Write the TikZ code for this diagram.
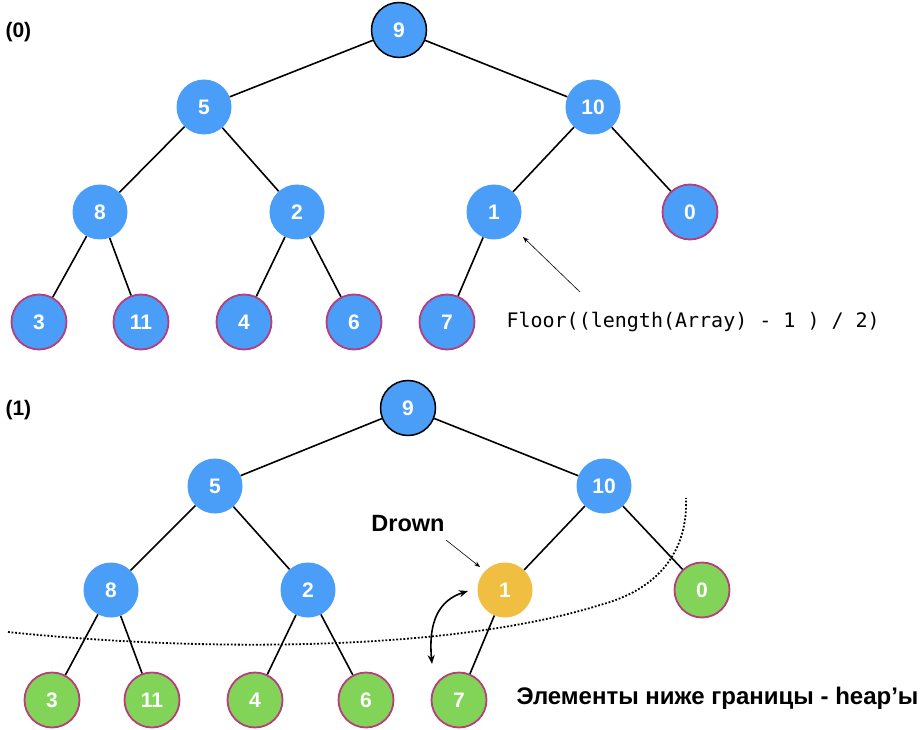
\documentclass[tikz,border=0pt]{standalone}
\usepackage{fontspec}
\setmainfont{Liberation Sans}
\newfontfamily\monofont{DejaVu Sans Mono}
\usetikzlibrary{arrows.meta}
\definecolor{nblue}{RGB}{74,158,247}
\definecolor{ngreen}{RGB}{130,212,88}
\definecolor{nyellow}{RGB}{240,190,65}
\definecolor{npurple}{RGB}{183,61,125}
\tikzset{
  vtx/.style={circle, minimum size=55pt, inner sep=0pt, text=white,
    font=\fontsize{21}{24}\selectfont\bfseries},
  bluev/.style={vtx, fill=nblue},
  rootv/.style={vtx, fill=nblue, draw=black, line width=1.5pt},
  leafb/.style={vtx, fill=nblue, draw=npurple, line width=1.8pt},
  leafg/.style={vtx, fill=ngreen, draw=npurple, line width=1.8pt},
  yelv/.style={vtx, fill=nyellow},
  edge/.style={line width=1.6pt, black},
  thinarrow/.style={line width=0.6pt, -{Stealth[length=6pt,width=4.5pt]}},
  lab/.style={font=\fontsize{21}{24}\selectfont\bfseries, anchor=west},
  boldtext/.style={font=\fontsize{23.5}{27}\selectfont\bfseries},
}
\begin{document}
\begin{tikzpicture}[x=1pt,y=-1pt]
\useasboundingbox (0,0) rectangle (924,730);
% ---- tree (0)
\node[lab] (l0) at (2,32) {(0)};
\node[rootv] (a9) at (399,30) {9};
\node[bluev] (a5) at (204,107) {5};
\node[bluev] (a10) at (593,107) {10};
\node[bluev] (a8) at (100,212) {8};
\node[bluev] (a2) at (297,212) {2};
\node[bluev] (a1) at (494,212) {1};
\node[leafb] (a0) at (690,212) {0};
\node[leafb] (a3) at (39,322) {3};
\node[leafb] (a11) at (141,322) {11};
\node[leafb] (a4) at (244,322) {4};
\node[leafb] (a6) at (354,322) {6};
\node[leafb] (a7) at (447,322) {7};
\draw[edge] (a9) -- (a5);
\draw[edge] (a9) -- (a10);
\draw[edge] (a5) -- (a8);
\draw[edge] (a5) -- (a2);
\draw[edge] (a10) -- (a1);
\draw[edge] (a10) -- (a0);
\draw[edge] (a8) -- (a3);
\draw[edge] (a8) -- (a11);
\draw[edge] (a2) -- (a4);
\draw[edge] (a2) -- (a6);
\draw[edge] (a1) -- (a7);
\node[anchor=west, font=\monofont\fontsize{20}{23}\selectfont] (floor) at (503,322) {Floor((length(Array) - 1 ) / 2)};
\coordinate (ftail) at (580,292);
\coordinate (fhead) at (523,237);
\draw[thinarrow] (ftail) -- (fhead);
% ---- tree (1)
\node[lab] (l1) at (2,410) {(1)};
\node[rootv] (b9) at (408,408) {9};
\node[bluev] (b5) at (215,486) {5};
\node[bluev] (b10) at (604,486) {10};
\node[bluev] (b8) at (111,590) {8};
\node[bluev] (b2) at (308,590) {2};
\node[yelv] (b1) at (505,590) {1};
\node[leafg] (b0) at (702,590) {0};
\node[leafg] (b3) at (52,700) {3};
\node[leafg] (b11) at (152,700) {11};
\node[leafg] (b4) at (255,700) {4};
\node[leafg] (b6) at (366,700) {6};
\node[leafg] (b7) at (459,700) {7};
\draw[edge] (b9) -- (b5);
\draw[edge] (b9) -- (b10);
\draw[edge] (b5) -- (b8);
\draw[edge] (b5) -- (b2);
\draw[edge] (b10) -- (b1);
\draw[edge] (b10) -- (b0);
\draw[edge] (b8) -- (b3);
\draw[edge] (b8) -- (b11);
\draw[edge] (b2) -- (b4);
\draw[edge] (b2) -- (b6);
\draw[edge] (b1) -- (b7);
\node[boldtext] (drown) at (408,524) {Drown};
\coordinate (dtail) at (446,540);
\coordinate (dhead) at (480,567);
\draw[thinarrow] (dtail) -- (dhead);
\coordinate (sw1) at (432,664);
\coordinate (sw2) at (468,591);
\draw[line width=1.6pt, {Stealth[length=9pt,width=7pt]}-{Stealth[length=9pt,width=7pt]}] (sw1) .. controls (428,620) and (440,600) .. (sw2);
\draw[line width=1.8pt, dash pattern=on 1.8pt off 1.8pt] (8,632) .. controls (200,652) and (450,652) .. (600,605) .. controls (660,589) and (688,550) .. (686,498);
\node[anchor=west, font=\fontsize{24}{27}\selectfont\bfseries] (heap) at (513,698) {Элементы ниже границы - heap’ы};
\end{tikzpicture}
\end{document}
